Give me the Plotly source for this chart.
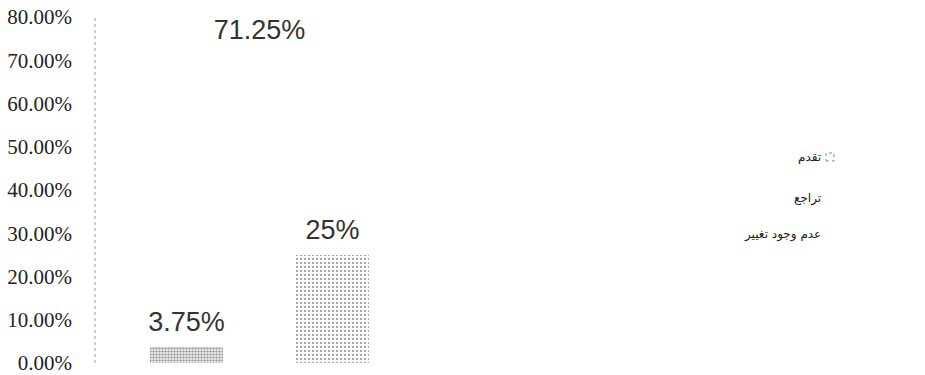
import plotly.graph_objects as go

categories = [""]
series_names = ["تراجع", "تقدم", "عدم وجود تغيير"]
series_values = [0.0375, 0.7125, 0.25]
value_labels = ["3.75%", "71.25%", "25%"]
legend_order = ["تقدم", "تراجع", "عدم وجود تغيير"]
tick_values = [0, 0.1, 0.2, 0.3, 0.4, 0.5, 0.6, 0.7, 0.8]

patterns = [
    dict(shape=".", fgcolor="#444444", bgcolor="white", size=3, solidity=0.55),
    dict(shape="", fgcolor="white", bgcolor="white"),
    dict(shape=".", fgcolor="#555555", bgcolor="white", size=4, solidity=0.3),
]

L, R = 95, 424
T, B = 17, 363
GAP = 0.334

fig = go.Figure()
for i, (name, val, pat) in enumerate(zip(series_names, series_values, patterns)):
    fig.add_trace(go.Bar(
        x=categories, y=[val], name=name, offsetgroup=str(i),
        marker=dict(color="white", pattern=pat, line=dict(width=0)),
        showlegend=False, hoverinfo="skip",
    ))
# value labels, grouped the same way as the bars
for i, (name, val, lab) in enumerate(zip(series_names, series_values, value_labels)):
    fig.add_trace(go.Scatter(
        x=categories, y=[val], name=name, offsetgroup=str(i),
        mode="markers+text", text=[lab], textposition="top center",
        marker=dict(size=13, opacity=0), cliponaxis=False,
        textfont=dict(family="Liberation Sans", size=27, color="#333333"),
        showlegend=False,
    ))

fig.update_layout(
    width=925, height=375,
    margin=dict(l=L, r=925 - R, t=T, b=375 - B),
    paper_bgcolor="white", plot_bgcolor="white",
    barmode="group", bargap=GAP, bargroupgap=0,
    scattermode="group", scattergap=GAP,
    font=dict(family="Liberation Serif", color="#222222"),
    xaxis=dict(showticklabels=False, showgrid=False, zeroline=False, showline=False,
               automargin=False),
    yaxis=dict(range=[0, 0.8], tickvals=tick_values, tickformat=".2%",
               showgrid=False, zeroline=False, showline=False,
               ticklabelstandoff=22, automargin=False, ticklabeloverflow="allow",
               tickfont=dict(family="Liberation Serif", size=21, color="#222222")),
)

# dotted, faint vertical axis line
fig.add_shape(type="line", xref="paper", yref="paper", x0=0, x1=0, y0=0, y1=1,
              line=dict(color="#9a9a9a", width=1, dash="dot"))

# RTL legend as annotations
W, H = R - L, B - T
legend_y = [157, 198, 234]
for name, py in zip(legend_order, legend_y):
    fig.add_annotation(
        xref="paper", yref="paper",
        x=(823 - L) / W, y=(B - py) / H,
        text=name, showarrow=False, xanchor="right", yanchor="middle",
        font=dict(family="DejaVu Sans", size=12, color="#222222"),
    )
# small legend marker for first item
fig.add_shape(type="rect", xref="paper", yref="paper",
              x0=(826 - L) / W, x1=(834 - L) / W,
              y0=(B - 161) / H, y1=(B - 153) / H,
              line=dict(color="#888888", width=1, dash="dot"), fillcolor="white")

fig.write_html("out.html")
